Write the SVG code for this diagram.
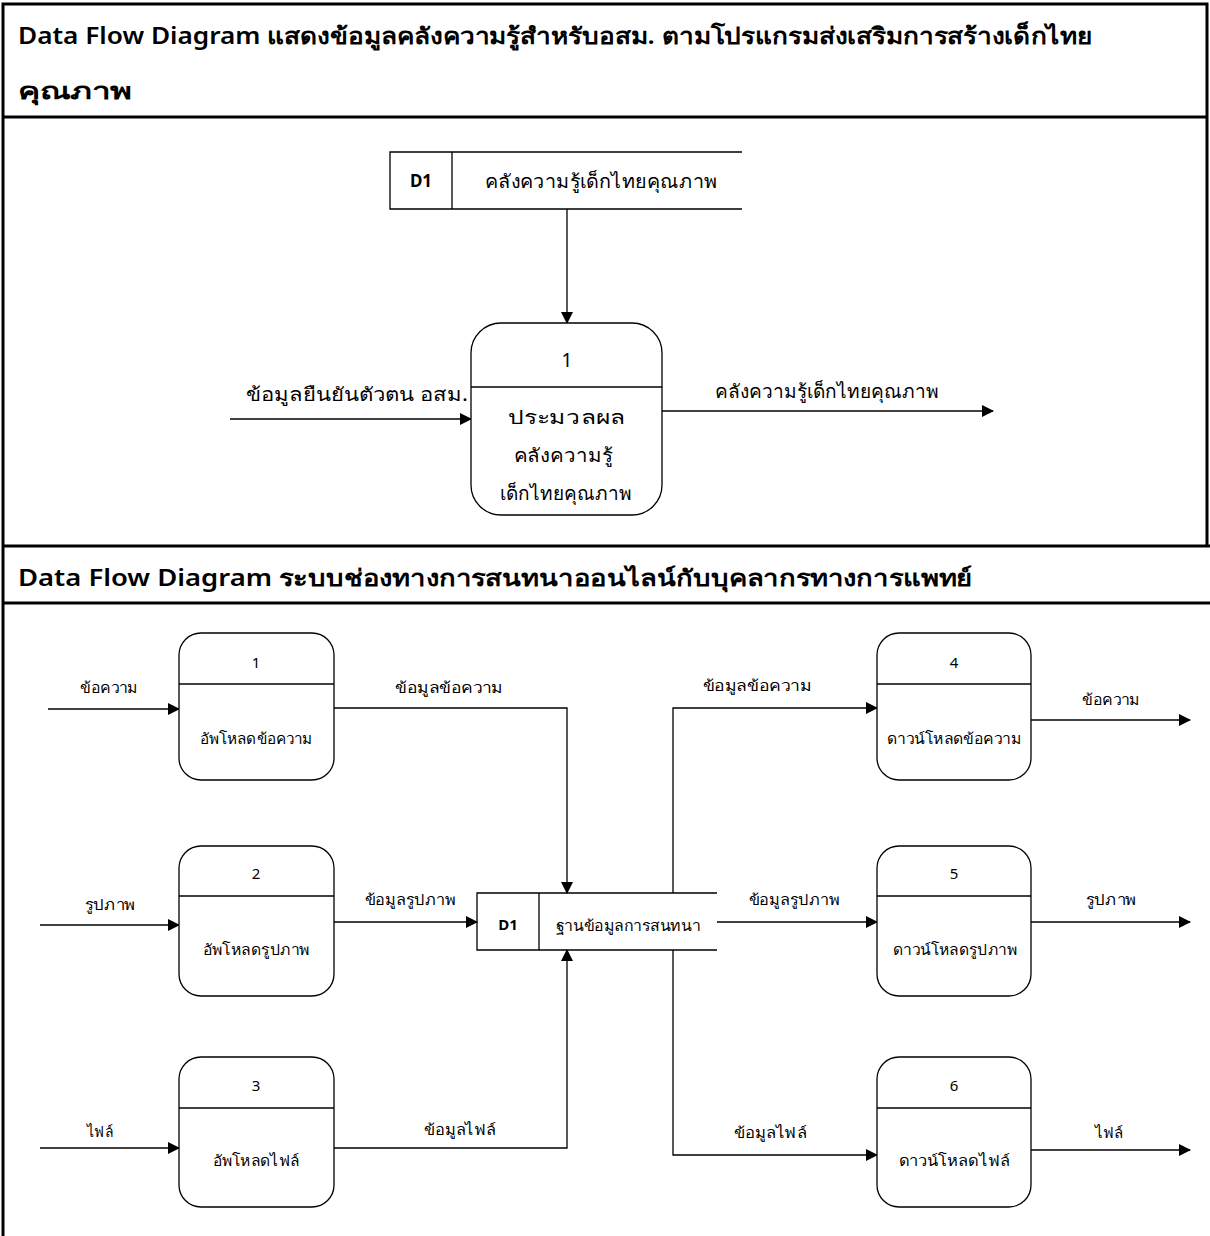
<svg xmlns="http://www.w3.org/2000/svg" width="1210" height="1236" viewBox="0 0 1210 1236">
<defs>
<marker id="ah" markerWidth="12" markerHeight="12" refX="11" refY="6" orient="auto" markerUnits="userSpaceOnUse">
<path d="M0,0 L12,6 L0,12 Z" fill="#000"/>
</marker>
<style>
.frame{stroke:#000;stroke-width:3;fill:none}
.hdr{font-family:"Noto Sans","Liberation Sans",sans-serif;font-weight:600;font-size:23px;fill:#000}
.box{fill:#fff;stroke:#000;stroke-width:1.3}
.ln{fill:none;stroke:#000;stroke-width:1.3}
.fl{fill:none;stroke:#000;stroke-width:1.3;marker-end:url(#ah)}
.t1{font-family:"Noto Sans","Liberation Sans",sans-serif;font-size:19px;fill:#000;text-anchor:middle}
.t2{font-family:"Noto Sans","Liberation Sans",sans-serif;font-size:15px;fill:#000;text-anchor:middle}
.d1{font-family:"Noto Sans","Liberation Sans",sans-serif;font-size:15px;font-weight:bold;fill:#000;text-anchor:middle}
</style>
</defs>
<rect width="1210" height="1236" fill="#fff"/>
<g id="frame">
<path class="frame" d="M3,1236 V4 H1207 V546 M3,117 H1207 M3,546 H1210 M3,603 H1210"/>
<text class="hdr" x="18" y="44" textLength="1074" lengthAdjust="spacingAndGlyphs">Data Flow Diagram แสดงข้อมูลคลังความรู้สำหรับอสม. ตามโปรแกรมส่งเสริมการสร้างเด็กไทย</text>
<text class="hdr" x="18" y="99" textLength="114" lengthAdjust="spacingAndGlyphs">คุณภาพ</text>
<text class="hdr" x="18" y="586" textLength="954" lengthAdjust="spacingAndGlyphs">Data Flow Diagram ระบบช่องทางการสนทนาออนไลน์กับบุคลากรทางการแพทย์</text>
</g>
<g id="connectors">
<path class="fl" d="M567,209 V323"/>
<path class="fl" d="M230,419 H471"/>
<path class="fl" d="M662,411 H993"/>
<path class="fl" d="M48,709 H179"/>
<path class="fl" d="M40,925 H179"/>
<path class="fl" d="M40,1148 H179"/>
<path class="fl" d="M334,708 H567 V893"/>
<path class="fl" d="M334,922 H477"/>
<path class="fl" d="M334,1148 H567 V950"/>
<path class="fl" d="M673,893 V708 H877"/>
<path class="fl" d="M717,922 H877"/>
<path class="fl" d="M673,950 V1155 H877"/>
<path class="fl" d="M1031,720 H1190"/>
<path class="fl" d="M1031,922 H1190"/>
<path class="fl" d="M1031,1150 H1190"/>
<text class="t1" x="357" y="401" textLength="222" lengthAdjust="spacingAndGlyphs">ข้อมูลยืนยันตัวตน อสม.</text>
<text class="t1" x="827" y="398" textLength="225" lengthAdjust="spacingAndGlyphs">คลังความรู้เด็กไทยคุณภาพ</text>
<text class="t2" x="109" y="693" textLength="58" lengthAdjust="spacingAndGlyphs">ข้อความ</text>
<text class="t2" x="110" y="910" textLength="51" lengthAdjust="spacingAndGlyphs">รูปภาพ</text>
<text class="t2" x="100" y="1137" textLength="26" lengthAdjust="spacingAndGlyphs">ไฟล์</text>
<text class="t2" x="449" y="693" textLength="108" lengthAdjust="spacingAndGlyphs">ข้อมูลข้อความ</text>
<text class="t2" x="410" y="905" textLength="91" lengthAdjust="spacingAndGlyphs">ข้อมูลรูปภาพ</text>
<text class="t2" x="460" y="1135" textLength="72" lengthAdjust="spacingAndGlyphs">ข้อมูลไฟล์</text>
<text class="t2" x="757" y="691" textLength="109" lengthAdjust="spacingAndGlyphs">ข้อมูลข้อความ</text>
<text class="t2" x="794" y="905" textLength="91" lengthAdjust="spacingAndGlyphs">ข้อมูลรูปภาพ</text>
<text class="t2" x="770" y="1138" textLength="73" lengthAdjust="spacingAndGlyphs">ข้อมูลไฟล์</text>
<text class="t2" x="1111" y="705" textLength="58" lengthAdjust="spacingAndGlyphs">ข้อความ</text>
<text class="t2" x="1111" y="905" textLength="51" lengthAdjust="spacingAndGlyphs">รูปภาพ</text>
<text class="t2" x="1109" y="1138" textLength="28" lengthAdjust="spacingAndGlyphs">ไฟล์</text>
</g>
<g id="store-top">
<path class="ln" d="M742,152 H390 V209 H742 M452,152 V209"/>
<text class="d1" x="421" y="187" style="font-size:17px">D1</text>
<text class="t1" x="601" y="188" textLength="233" lengthAdjust="spacingAndGlyphs">คลังความรู้เด็กไทยคุณภาพ</text>
</g>
<g id="proc-top">
<rect class="box" x="471" y="323" width="191" height="192" rx="30"/>
<path class="ln" d="M471,387 H662"/>
<text class="t1" x="567" y="367">1</text>
<text class="t1" x="567" y="424" textLength="118" lengthAdjust="spacingAndGlyphs">ประมวลผล</text>
<text class="t1" x="563" y="462" textLength="99" lengthAdjust="spacingAndGlyphs">คลังความรู้</text>
<text class="t1" x="566" y="500" textLength="132" lengthAdjust="spacingAndGlyphs">เด็กไทยคุณภาพ</text>
</g>
<g id="store-chat">
<path class="ln" d="M717,893 H477 V950 H717 M539,893 V950"/>
<text class="d1" x="508" y="930">D1</text>
<text class="t2" x="628" y="931" textLength="144" lengthAdjust="spacingAndGlyphs">ฐานข้อมูลการสนทนา</text>
</g>
<g id="p1">
<rect class="box" x="179" y="633" width="155" height="147" rx="22"/>
<path class="ln" d="M179,684 H334"/>
<text class="t2" x="256" y="668">1</text>
<text class="t2" x="256" y="744" textLength="113" lengthAdjust="spacingAndGlyphs">อัพโหลดข้อความ</text>
</g>
<g id="p2">
<rect class="box" x="179" y="846" width="155" height="150" rx="22"/>
<path class="ln" d="M179,896 H334"/>
<text class="t2" x="256" y="879">2</text>
<text class="t2" x="256" y="955" textLength="107" lengthAdjust="spacingAndGlyphs">อัพโหลดรูปภาพ</text>
</g>
<g id="p3">
<rect class="box" x="179" y="1057" width="155" height="150" rx="22"/>
<path class="ln" d="M179,1108 H334"/>
<text class="t2" x="256" y="1091">3</text>
<text class="t2" x="256" y="1166" textLength="87" lengthAdjust="spacingAndGlyphs">อัพโหลดไฟล์</text>
</g>
<g id="p4">
<rect class="box" x="877" y="633" width="154" height="147" rx="22"/>
<path class="ln" d="M877,684 H1031"/>
<text class="t2" x="954" y="668">4</text>
<text class="t2" x="954" y="744" textLength="134" lengthAdjust="spacingAndGlyphs">ดาวน์โหลดข้อความ</text>
</g>
<g id="p5">
<rect class="box" x="877" y="846" width="154" height="150" rx="22"/>
<path class="ln" d="M877,896 H1031"/>
<text class="t2" x="954" y="879">5</text>
<text class="t2" x="955" y="955" textLength="124" lengthAdjust="spacingAndGlyphs">ดาวน์โหลดรูปภาพ</text>
</g>
<g id="p6">
<rect class="box" x="877" y="1057" width="154" height="150" rx="22"/>
<path class="ln" d="M877,1108 H1031"/>
<text class="t2" x="954" y="1091">6</text>
<text class="t2" x="954" y="1166" textLength="111" lengthAdjust="spacingAndGlyphs">ดาวน์โหลดไฟล์</text>
</g>
</svg>
